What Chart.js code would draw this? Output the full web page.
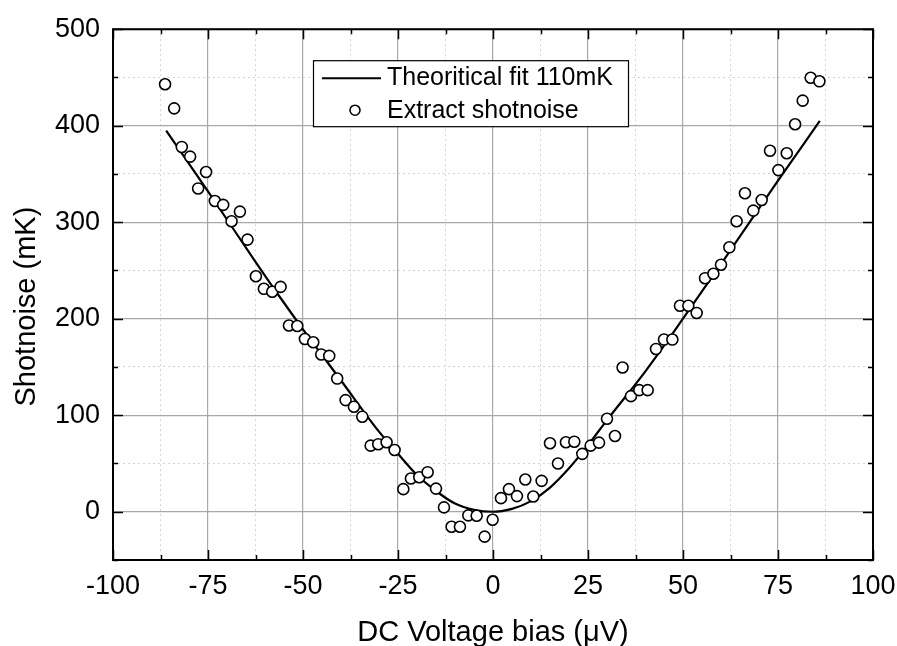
<!DOCTYPE html>
<html>
<head>
<meta charset="utf-8">
<script src="https://cdn.jsdelivr.net/npm/chart.js@4"></script>
<style>
  body { margin: 0; background: #fff; }
  #wrap { width: 897px; height: 646px; }
</style>
</head>
<body>
<div id="wrap"><canvas id="chart1"></canvas></div>
<script>
// measured points
const shotX = [
  -86.3, -83.9, -81.9, -79.7, -77.6, -75.5, -73.2, -71.0, -68.8, -66.6,
  -64.6, -62.4, -60.3, -58.1, -55.9, -53.7, -51.5, -49.5, -47.3, -45.2,
  -43.1, -41.0, -38.8, -36.6, -34.4, -32.2, -30.2, -28.0, -25.9, -23.6,
  -21.6, -19.4, -17.2, -15.0, -12.9, -10.9, -8.7, -6.5, -4.3, -2.2,
  -0.1, 2.1, 4.2, 6.3, 8.5, 10.6, 12.8, 15.0, 17.1, 19.2,
  21.4, 23.5, 25.7, 27.9, 30.0, 32.1, 34.1, 36.3, 38.5, 40.7,
  42.9, 45.0, 47.2, 49.2, 51.4, 53.6, 55.8, 58.0, 60.0, 62.2,
  64.1, 66.3, 68.5, 70.7, 72.9, 75.1, 77.3, 79.5, 81.5, 83.6, 85.9,
];
const shotY = [
  443, 418, 378, 368, 335, 352, 322, 318, 301, 311,
  282, 244, 231, 228, 233, 193, 192.5, 179, 175.6, 163,
  161.5, 138, 115.7, 108.8, 98.5, 68.5, 70, 72, 64, 23.4,
  34.4, 35.8, 41, 24, 4.5, -15.5, -15.5, -3.8, -4.1, -25.8,
  -8.3, 14.1, 23.4, 16.2, 33.4, 15.8, 32, 71, 50, 72,
  72.6, 60, 68.5, 71.6, 96.4, 78.5, 149.5, 119.8, 126, 126,
  168.7, 178.4, 178.4, 213.5, 213.5, 206, 242, 246.6, 255.9, 274,
  301, 330, 312, 323, 374, 354, 371.5, 401.5, 426, 449.7, 446,
];

// fit curve
const fitX = [-86, -75, -62.5, -56, -50, -40, -30, -25, -20, -15, -10, -5, 0, 5, 10, 15, 20, 25, 30, 40, 50, 62.5, 75, 86];
const fitY = [395, 332, 259, 222, 189, 136, 83, 60, 38, 21.5, 8.5, 2, 0, 3, 11, 25, 45, 69, 95, 145, 200, 271, 343, 405];

const legendLabels = ['Theoritical fit 110mK', 'Extract shotnoise'];
const yTitle = 'Shotnoise (mK)';

const FONT = 'Arial, "Liberation Sans", sans-serif';

const frameAndTicks = {
  id: 'frameAndTicks',
  afterDraw(chart) {
    const { ctx, chartArea: a, scales } = chart;
    ctx.save();
    ctx.strokeStyle = '#000';
    ctx.lineWidth = 1.5;
    // x ticks, inward, bottom and top
    for (let v = -100; v <= 100; v += 12.5) {
      const px = Math.round(scales.x.getPixelForValue(v)) + 0.5;
      const len = v % 25 === 0 ? 10 : 5;
      ctx.beginPath();
      ctx.moveTo(px, a.bottom); ctx.lineTo(px, a.bottom - len);
      ctx.moveTo(px, a.top); ctx.lineTo(px, a.top + len);
      ctx.stroke();
    }
    for (let v = -50; v <= 500; v += 50) {
      const py = Math.round(scales.y.getPixelForValue(v)) + 0.5;
      const len = v % 100 === 0 ? 10 : 5;
      ctx.beginPath();
      ctx.moveTo(a.left, py); ctx.lineTo(a.left + len, py);
      ctx.moveTo(a.right, py); ctx.lineTo(a.right - len, py);
      ctx.stroke();
    }
    ctx.lineWidth = 2;
    ctx.strokeRect(a.left, a.top, a.right - a.left, a.bottom - a.top);

    // y title
    ctx.save();
    ctx.translate(27, (a.top + a.bottom) / 2 + 12);
    ctx.rotate(-Math.PI / 2);
    ctx.fillStyle = '#000';
    ctx.font = '29px ' + FONT;
    ctx.textAlign = 'center';
    ctx.textBaseline = 'middle';
    ctx.fillText(yTitle, 0, 0);
    ctx.restore();

    // legend box
    const bx = a.left + 200, by = a.top + 31, bw = 315, bh = 66;
    ctx.fillStyle = '#fff';
    ctx.fillRect(bx, by, bw, bh);
    ctx.lineWidth = 1.2;
    ctx.strokeRect(bx + 0.5, by + 0.5, bw, bh);
    ctx.lineWidth = 2;
    ctx.beginPath();
    ctx.moveTo(bx + 9, by + 18); ctx.lineTo(bx + 68, by + 18);
    ctx.stroke();
    ctx.lineWidth = 1.6;
    ctx.beginPath();
    ctx.arc(bx + 42, by + 50, 5, 0, Math.PI * 2);
    ctx.fillStyle = '#fff';
    ctx.fill();
    ctx.stroke();
    ctx.fillStyle = '#000';
    ctx.font = '25px ' + FONT;
    ctx.textBaseline = 'middle';
    ctx.fillText(legendLabels[0], bx + 74, by + 18);
    ctx.fillText(legendLabels[1], bx + 74, by + 51);
    ctx.restore();
  },
};

var ctx1 = document.getElementById('chart1').getContext('2d');
var chart1 = new Chart(ctx1, {
  type: 'scatter',
  data: {
    datasets: [
      {
        label: legendLabels[1],
        data: shotX.map((x, i) => ({ x: x, y: shotY[i] })),
        pointRadius: 5.5,
        pointHoverRadius: 5.5,
        pointBorderWidth: 1.6,
        pointBackgroundColor: '#fff',
        pointBorderColor: '#000',
        showLine: false,
      },
      {
        label: legendLabels[0],
        data: fitX.map((x, i) => ({ x: x, y: fitY[i] })),
        showLine: true,
        borderColor: '#000',
        borderWidth: 2.2,
        pointRadius: 0,
        cubicInterpolationMode: 'monotone',
        fill: false,
      },
    ],
  },
  options: {
    responsive: true,
    maintainAspectRatio: false,
    animation: false,
    layout: { padding: { top: 28, right: 24, left: 0, bottom: 0 } },
    scales: {
      x: {
        type: 'linear',
        min: -100,
        max: 100,
        afterFit: s => { s.height = 86; s.paddingRight = 0; s.paddingLeft = 0; },
        ticks: {
          stepSize: 12.5,
          autoSkip: false,
          maxRotation: 0,
          padding: 10,
          color: '#000',
          font: { family: FONT, size: 27 },
          callback: v => (v % 25 === 0 ? v : ''),
        },
        grid: {
          drawTicks: false,
          color: c => (c.tick && c.tick.value % 25 === 0 ? '#a8a8a8' : '#d4d4d4'),
          lineWidth: c => (c.tick && c.tick.value % 25 === 0 ? 1.2 : 1),
        },
        border: {
          display: false,
          dash: c => (c.tick && c.tick.value % 25 !== 0 ? [2, 3] : []),
        },
        title: {
          display: true,
          text: 'DC Voltage bias (μV)',
          color: '#000',
          font: { family: FONT, size: 29, lineHeight: 0.9 },
          padding: 0,
        },
      },
      y: {
        type: 'linear',
        min: -50,
        max: 500,
        afterFit: s => { s.width = 113; },
        ticks: {
          stepSize: 50,
          autoSkip: false,
          padding: 13,
          color: '#000',
          font: { family: FONT, size: 27 },
          callback: v => (v % 100 === 0 ? v : ''),
        },
        grid: {
          drawTicks: false,
          color: c => (c.tick && c.tick.value % 100 === 0 ? '#a8a8a8' : '#d4d4d4'),
          lineWidth: c => (c.tick && c.tick.value % 100 === 0 ? 1.2 : 1),
        },
        border: {
          display: false,
          dash: c => (c.tick && c.tick.value % 100 !== 0 ? [2, 3] : []),
        },
      },
    },
    plugins: {
      legend: { display: false },
      tooltip: { enabled: false },
    },
  },
  plugins: [frameAndTicks],
});
</script>
</body>
</html>
